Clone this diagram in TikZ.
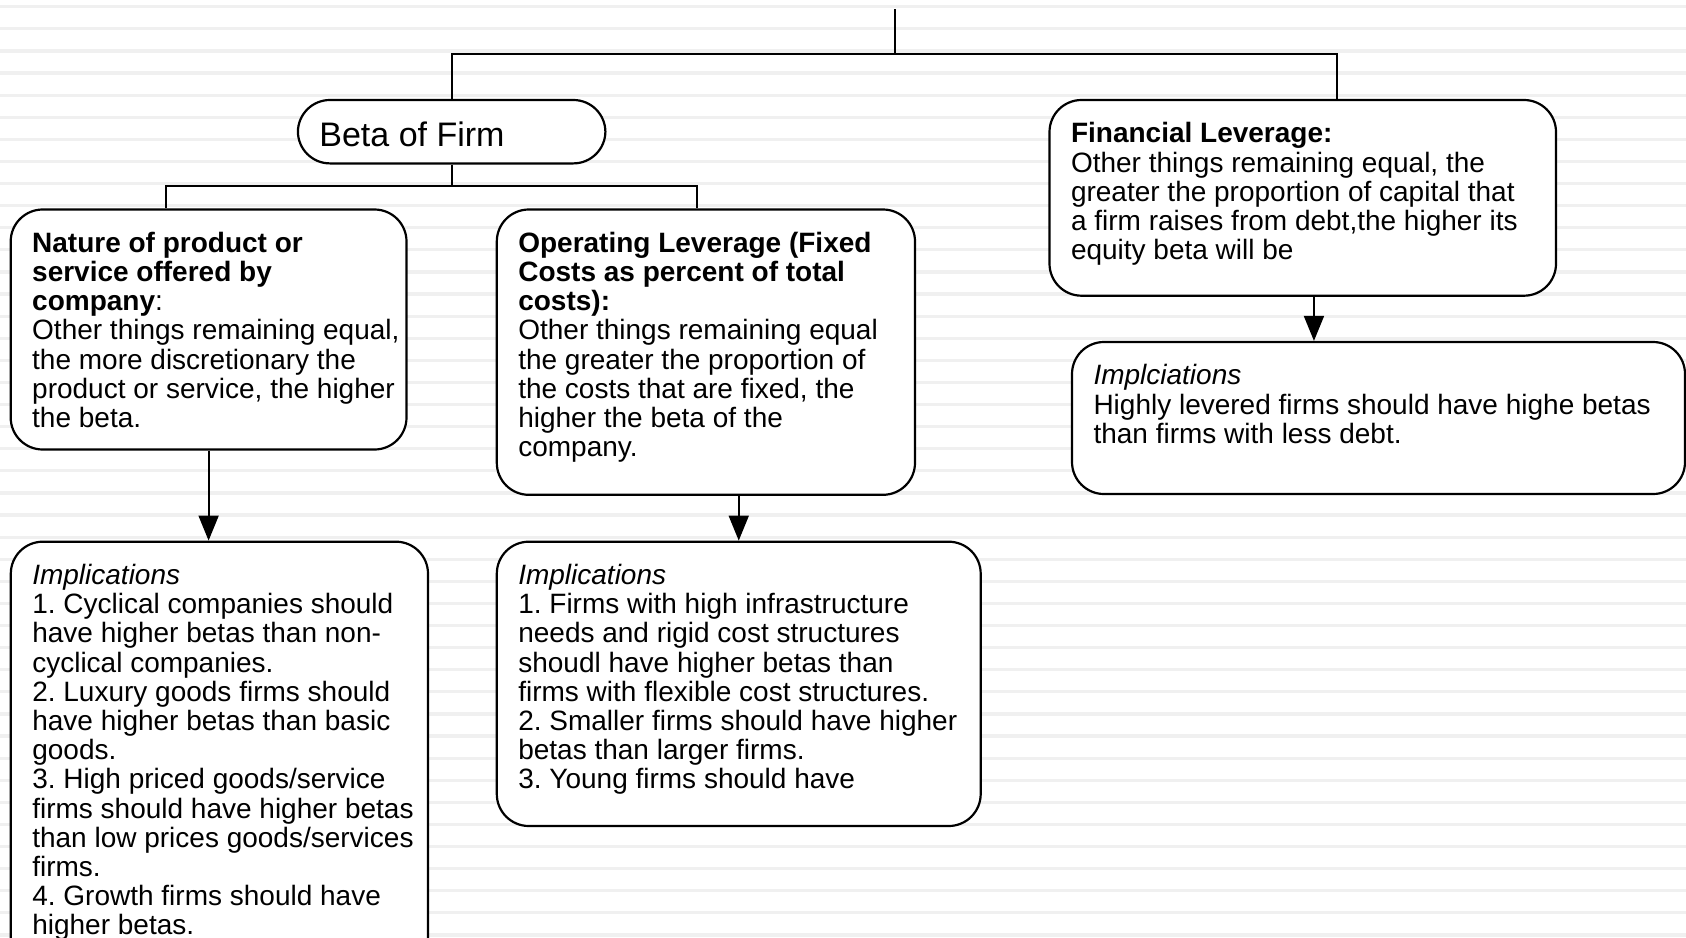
\documentclass[tikz,border=0pt]{standalone}
\usepackage{fontspec}
\setmainfont{Liberation Sans}
\usetikzlibrary{arrows.meta}
\frenchspacing

\newcommand{\cardtext}[3]{\parbox[c][#2][t]{#1}{\raggedright\leftskip=10.75pt\rightskip=-20pt plus 1fil\parindent=0pt\vspace*{11.2pt}\strut#3}}

\tikzset{
  card/.style={draw, line width=1.1pt, fill=white, rounded corners=16pt, inner sep=0pt, font=\fontsize{14pt}{14.6pt}\selectfont},
  link/.style={line width=0.9pt},
  leadto/.style={line width=0.9pt, -{Triangle[length=12.5pt,width=10pt]}},
  stripe/.style={fill=gray!12}
}

\begin{document}
\begin{tikzpicture}[x=0.5pt,y=-0.5pt]
    \clip (0,0) rectangle (1686,937);
    \fill[white] (0,0) rectangle (1686,937);
    \foreach \k in {0,...,42}{\fill[stripe] (0,{5.1+22.1*\k}) rectangle (1686,{8.3+22.1*\k});}

    \node[card, font=\fontsize{17pt}{19pt}\selectfont] (beta) at (451.65,131.7) {\parbox[c][31.7pt][t]{153.75pt}{\vspace*{9.7pt}\strut\hspace*{10.75pt}Beta of Firm}};
    \node[card] (nat) at (208.6,329.5) {\cardtext{197.9pt}{120pt}{\textbf{Nature of product or}\\ \textbf{service offered by}\\ \textbf{company}:\\ Other things remaining equal,\\ the more discretionary the\\ product or service, the higher\\ the beta.}};
    \node[card] (op) at (705.9,352.15) {\cardtext{209.1pt}{142.65pt}{\textbf{Operating Leverage (Fixed}\\ \textbf{Costs as percent of total}\\ \textbf{costs):}\\ Other things remaining equal\\ the greater the proportion of\\ the costs that are fixed, the\\ higher the beta of the\\ company.}};
    \node[card] (fin) at (1302.75,197.85) {\cardtext{253.25pt}{97.85pt}{\textbf{Financial Leverage:}\\ Other things remaining equal, the\\ greater the proportion of capital that\\ a firm raises from debt,the higher its\\ equity beta will be}};
    \node[card] (finimp) at (1378.5,418) {\cardtext{306.5pt}{76pt}{\textit{Implciations}\\ Highly levered firms should have highe betas\\ than firms with less debt.}};
    \node[card] (natimp) at (219.4,770.85) {\cardtext{208.6pt}{229.15pt}{\textit{Implications}\\ 1. Cyclical companies should\\ have higher betas than non-\\ cyclical companies.\\ 2. Luxury goods firms should\\ have higher betas than basic\\ goods.\\ 3. High priced goods/service\\ firms should have higher betas\\ than low prices goods/services\\ firms.\\ 4. Growth firms should have\\ higher betas.}};
    \node[card] (opimp) at (738.75,683.85) {\cardtext{241.95pt}{142.15pt}{\textit{Implications}\\ 1. Firms with high infrastructure\\ needs and rigid cost structures\\ shoudl have higher betas than\\ firms with flexible cost structures.\\ 2. Smaller firms should have higher\\ betas than larger firms.\\ 3. Young firms should have}};

    \coordinate (top) at (894.6,9);
    \coordinate (split) at (894.6,54);
    \coordinate (finjoin) at (1336.6,54);
    \coordinate (natjoin) at (165.6,186);
    \coordinate (opjoin) at (696.8,186);

    \draw[link] (top) -- (split);
    \draw[link] (beta.north) |- (finjoin) -- (finjoin |- fin.north);
    \draw[link] (beta.south) -- (beta.south |- natjoin);
    \draw[link] (natjoin |- nat.north) -- (natjoin) -- (opjoin) -- (opjoin |- op.north);
    \draw[leadto] (nat.south) -- (nat.south |- natimp.north);
    \draw[leadto] (opimp.north |- op.south) -- (opimp.north);
    \draw[leadto] ([xshift=5.6pt]fin.south) -- ([xshift=5.6pt]fin.south |- finimp.north);
  \end{tikzpicture}
\end{document}
